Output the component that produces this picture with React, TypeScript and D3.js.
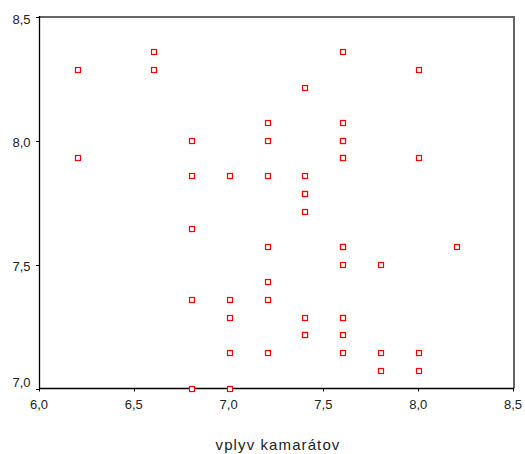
import React from 'react';
import * as d3 from 'd3';

// x = vplyv kamarátov, y = unlabeled variable
const xValues = [
  6.2, 6.2,
  6.6, 6.6,
  6.8, 6.8, 6.8, 6.8, 6.8,
  7.0, 7.0, 7.0, 7.0, 7.0,
  7.2, 7.2, 7.2, 7.2, 7.2, 7.2, 7.2,
  7.4, 7.4, 7.4, 7.4, 7.4, 7.4, 7.4, 7.4,
  7.6, 7.6, 7.6, 7.6, 7.6, 7.6, 7.6, 7.6, 7.6, 7.6, 7.6, 7.6, 7.6,
  7.8, 7.8, 7.8,
  8.0, 8.0, 8.0, 8.0,
  8.2,
];
const yValues = [
  8.286, 7.929,
  8.357, 8.286,
  8.0, 7.857, 7.643, 7.357, 7.0,
  7.857, 7.357, 7.286, 7.143, 7.0,
  8.071, 8.0, 7.857, 7.571, 7.429, 7.357, 7.143,
  8.214, 7.857, 7.786, 7.786, 7.714, 7.286, 7.214, 7.214,
  8.357, 8.071, 8.0, 8.0, 7.929, 7.929, 7.571, 7.571, 7.5, 7.286, 7.286, 7.214, 7.143,
  7.5, 7.143, 7.071,
  8.286, 7.929, 7.143, 7.071,
  7.571,
];
const xTicks = [6.0, 6.5, 7.0, 7.5, 8.0, 8.5];
const yTicks = [7.0, 7.5, 8.0, 8.5];
const xTitle = 'vplyv kamarátov';

const fmt = (v: number) => v.toFixed(1).replace('.', ',');

const App = () => {
  const left = 40, right = 514, top = 17, bottom = 388.5;
  const x = d3.scaleLinear().domain([6, 8.5]).range([left, right]);
  const y = d3.scaleLinear().domain([7, 8.5]).range([bottom, top]);
  const font = '"Liberation Sans", Arial, sans-serif';

  return (
    <svg width={525} height={454} style={{ position: 'absolute', left: 0, top: 0, background: '#fff' }}>
      {/* frame: top and right in grey, axes in black */}
      <line x1={left} x2={right + 1} y1={top} y2={top} stroke="#666" strokeWidth={2} />
      <line x1={right} x2={right} y1={top} y2={bottom} stroke="#666" strokeWidth={2} />

      {yTicks.map(t => (
        <g key={'y' + t}>
          <line x1={left - 4} x2={left} y1={Math.round(y(t)) + 0.5} y2={Math.round(y(t)) + 0.5} stroke="#000" />
          <text x={30.5} y={y(t) + (t === 7 ? -6 : 2)} dy="0.35em" textAnchor="end"
            fontFamily={font} fontSize={13} fill="#222">{fmt(t)}</text>
        </g>
      ))}
      {xTicks.map(t => (
        <g key={'x' + t}>
          <line x1={Math.round(x(t)) - 0.5} x2={Math.round(x(t)) - 0.5} y1={bottom} y2={bottom + 3} stroke="#000" />
          <text x={x(t) - 1} y={408.5} textAnchor="middle" fontFamily={font} fontSize={13} fill="#222">{fmt(t)}</text>
        </g>
      ))}

      <line x1={left - 0.5} x2={left - 0.5} y1={top - 1} y2={bottom} stroke="#000" strokeWidth={1.3} />
      <line x1={left - 1} x2={right} y1={bottom} y2={bottom} stroke="#000" strokeWidth={1.3} />

      {xValues.map((v, i) => (
        <rect key={i}
          x={Math.round(x(v)) - 2.5} y={Math.round(y(yValues[i])) - 2.5}
          width={5} height={5} fill="#fff" stroke="#f00" strokeWidth={1.2} />
      ))}

      <text x={(left + right) / 2 + 1} y={450} textAnchor="middle" fontFamily={font}
        fontSize={15} letterSpacing={1.1} fill="#222">{xTitle}</text>
    </svg>
  );
};

export default App;
